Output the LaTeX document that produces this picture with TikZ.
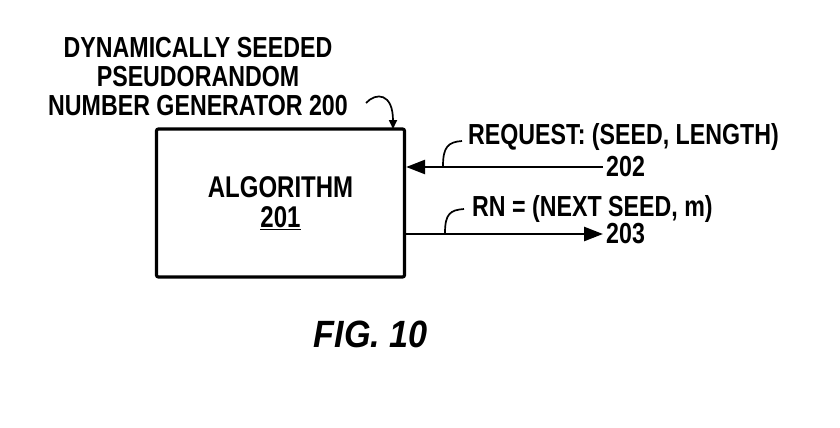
\documentclass[tikz,border=0pt]{standalone}
\usepackage{fontspec}
\setmainfont[FakeStretch=0.8]{Liberation Sans}
\newfontfamily\figfont[FakeStretch=0.9]{Liberation Sans}
\usepackage{tikz}
\usetikzlibrary{arrows.meta,positioning,calc}
\tikzset{
  algbox/.style={rectangle, rounded corners=2pt, draw=black, line width=3.2pt,
    minimum width=248pt, minimum height=148pt, align=center, inner sep=0pt,
    font=\fontsize{30}{30}\selectfont\bfseries},
  lbl/.style={font=\fontsize{29}{29}\selectfont\bfseries, inner sep=0pt},
  flow/.style={-{Triangle[length=19pt, width=14pt]}, line width=2.6pt, draw=black},
  lead/.style={line width=1.7pt, draw=black},
  leadtip/.style={lead, -{Triangle[length=9pt, width=8pt]}},
}
\begin{document}
\begin{tikzpicture}[x=1pt, y=-1pt]
  \useasboundingbox (0,0) rectangle (840,428);
  \node[lbl, align=center] (gen) at (198,77)
    {DYNAMICALLY SEEDED\\ PSEUDORANDOM\\ NUMBER GENERATOR 200};
  \node[algbox] (algo) at (280.5,203) {ALGORITHM\\ \underline{201}};
  \coordinate (genfrom) at (366,103);
  \coordinate (gento) at (393,129);
  \draw[leadtip] (genfrom) .. controls (376,92) and (393,93) .. (gento);
  % request going in, result coming out
  \node[lbl, anchor=west] (req) at (468,137) {REQUEST: (SEED, LENGTH)};
  \node[lbl, anchor=west] (n202) at (606,167) {202};
  \node[lbl, anchor=west] (rn) at (472,209) {RN = (NEXT SEED, m)};
  \node[lbl, anchor=west] (n203) at (606,234) {203};
  \coordinate (reqin) at (algo.east |- 0,167);
  \coordinate (rnout) at (algo.east |- 0,234);
  \draw[flow] ($(n202.west)+(-3,0)$) -- (reqin);
  \draw[flow] (rnout) -- ($(n203.west)+(-3,0)$);
  \draw[lead] (443,166) .. controls (443,147) and (448,142) .. ($(req.west)+(-6,4)$);
  \draw[lead] (445,233) .. controls (445,214) and (450,210) .. ($(rn.west)+(-8,0)$);
  \node[font=\figfont\fontsize{38}{40}\selectfont\bfseries\itshape, inner sep=0pt] (fig) at (371,334) {FIG. 10};
\end{tikzpicture}
\end{document}
